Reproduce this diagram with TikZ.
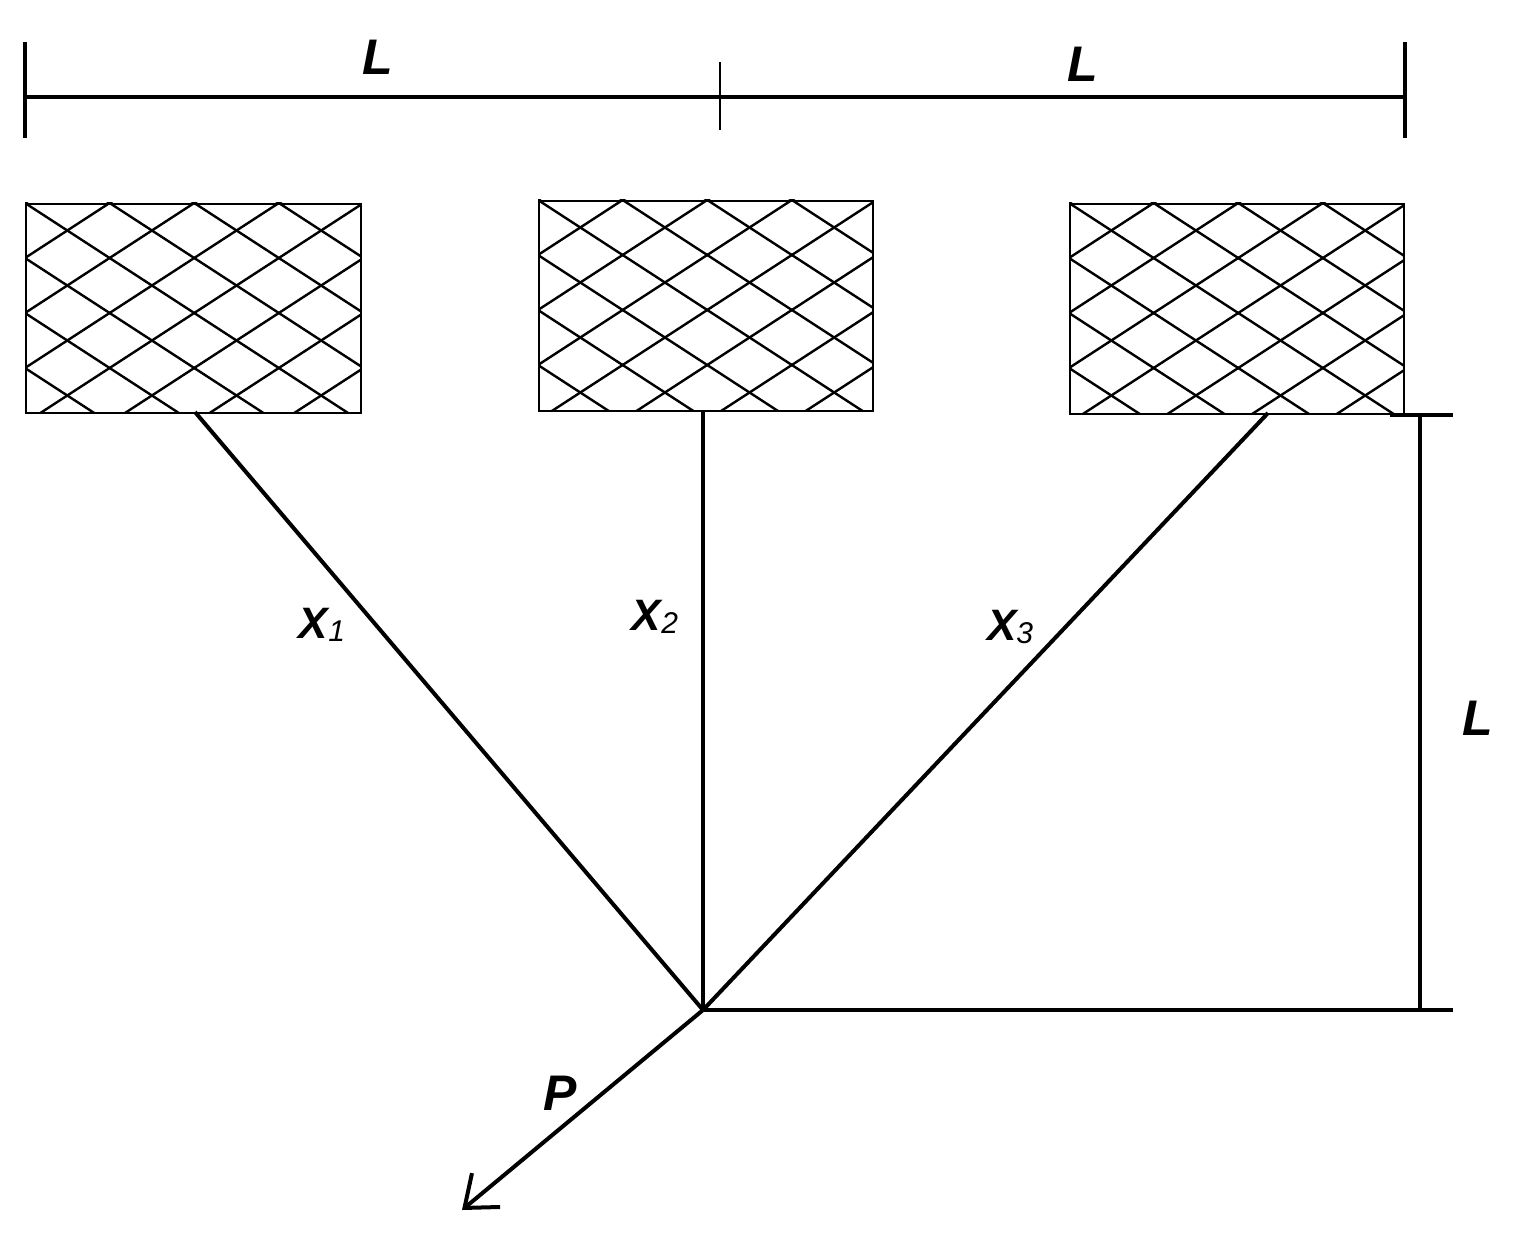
\documentclass[tikz,border=0pt]{standalone}
\usepackage{fontspec}
\setmainfont{Liberation Sans}
\usetikzlibrary{arrows.meta}
\begin{document}
\begin{tikzpicture}[x=0.5pt,y=-0.5pt,
  thick line/.style={line width=2pt},
  hatchbox/.style={draw,line width=1.2pt},
  lbl/.style={font=\fontsize{25}{27}\selectfont\bfseries\itshape},
  xl/.style={font=\fontsize{22}{24}\selectfont\bfseries\itshape}]
\useasboundingbox (0,0) rectangle (1519,1246);
% dimension line top
\draw[thick line] (25,97) -- (1405,97);
\draw[thick line] (25,42) -- (25,138);
\draw[line width=1.2pt] (720,62) -- (720,130);
\draw[thick line] (1405,42) -- (1405,138);
\node[lbl] (L1) at (378,57) {L};
\node[lbl] (L2) at (1083,64) {L};
% boxes
\foreach \name/\xa/\ya/\xb/\yb in {b1/25/203/360/412, b2/538/200/872/410, b3/1069/203/1403/413}{
  \begin{scope}
    \clip (\xa,\ya) rectangle (\xb,\yb);
    \foreach \k in {-12,...,12}{
      \draw[line width=1.2pt] (\xa,\ya+\k*55) -- ++(400,260);
      \draw[line width=1.2pt] (\xa,\ya+\k*55) -- ++(400,-260);
    }
  \end{scope}
  \node[hatchbox,inner sep=0pt,minimum width={(\xb-\xa)*0.5pt},minimum height={(\yb-\ya)*0.5pt},anchor=north west] (\name) at (\xa,\ya) {};
}
% cables
\coordinate (O) at (703,1010);
\coordinate (a1) at (195,412);
\coordinate (a2) at (703,410);
\coordinate (a3) at (1268,413);
\draw[thick line] (a1) -- (O);
\draw[thick line] (a2) -- (O);
\draw[thick line] (a3) -- (O);
\node[xl] (x1) at (322,625) {X\textmd{\itshape\fontsize{15}{16}\selectfont\raisebox{-0.2ex}{1}}};
\node[xl] (x2) at (655,617) {X\textmd{\itshape\fontsize{15}{16}\selectfont\raisebox{-0.2ex}{2}}};
\node[xl] (x3) at (1010,627) {X\textmd{\itshape\fontsize{15}{16}\selectfont\raisebox{-0.2ex}{3}}};
% right dimension
\coordinate (h1) at (1453,1010);
\draw[thick line] (O) -- (h1);
\coordinate (v1) at (1420,415);
\coordinate (v2) at (1420,1010);
\draw[thick line] (v1) -- (v2);
\draw[thick line] (1390,415) -- (1453,415);
\node[lbl] (L3) at (1478,718) {L};
% force
\coordinate (Pend) at (462,1210);
\draw[thick line,-{Straight Barb[length=14pt,width=22pt,line width=2pt]}] (O) -- (Pend);
\node[lbl] (P) at (560,1093) {P};
\end{tikzpicture}
\end{document}
